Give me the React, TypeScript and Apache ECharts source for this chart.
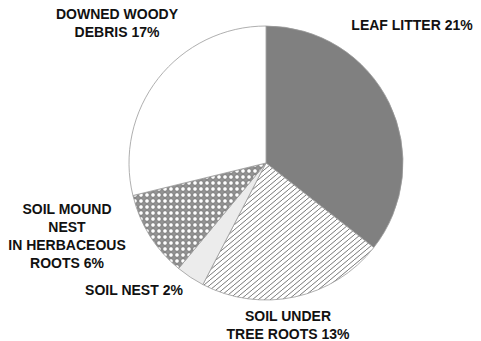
import React, { useEffect, useRef } from "react";
import * as echarts from "echarts";

const categories = [
  "LEAF LITTER",
  "SOIL UNDER\nTREE ROOTS",
  "SOIL NEST",
  "SOIL MOUND\nNEST\nIN HERBACEOUS\nROOTS",
  "DOWNED WOODY\nDEBRIS",
];
const values = [21, 13, 2, 6, 17];
// label anchor points (block centres) for each category
const labelX = [412, 288, 134, 67, 117];
const labelY = [25, 325, 290, 236, 23];

function makeHatch(): HTMLCanvasElement {
  const w = 6, h = 5;
  const c = document.createElement("canvas");
  c.width = w; c.height = h;
  const ctx = c.getContext("2d")!;
  ctx.fillStyle = "#ffffff";
  ctx.fillRect(0, 0, w, h);
  ctx.strokeStyle = "#6a6a6a";
  ctx.lineWidth = 0.9;
  for (const off of [-w, 0, w]) {
    ctx.beginPath();
    ctx.moveTo(off, h);
    ctx.lineTo(off + w, 0);
    ctx.stroke();
  }
  return c;
}

function makeCircles(): HTMLCanvasElement {
  const s = 6;
  const c = document.createElement("canvas");
  c.width = s; c.height = s;
  const ctx = c.getContext("2d")!;
  ctx.fillStyle = "#949494";
  ctx.fillRect(0, 0, s, s);
  ctx.fillStyle = "#ffffff";
  ctx.strokeStyle = "#686868";
  ctx.lineWidth = 0.7;
  ctx.beginPath();
  ctx.arc(3, 3, 2.3, 0, Math.PI * 2);
  ctx.fill();
  ctx.stroke();
  return c;
}

export default function App() {
  const ref = useRef<HTMLDivElement>(null);
  useEffect(() => {
    document.body.style.margin = "0";
    const chart = echarts.init(ref.current!, undefined, { renderer: "svg" });
    const fills: any[] = [
      "#808080",
      { image: makeHatch(), repeat: "repeat" },
      "#ececec",
      { image: makeCircles(), repeat: "repeat" },
      "#ffffff",
    ];
    chart.setOption({
      animation: false,
      backgroundColor: "#ffffff",
      series: [
        {
          type: "pie",
          center: [266, 163],
          radius: 137,
          startAngle: 90,
          clockwise: true,
          avoidLabelOverlap: false,
          silent: true,
          data: categories.map((name, i) => ({
            name,
            value: values[i],
            itemStyle: { color: fills[i] },
          })),
          itemStyle: { borderColor: "#9a9a9a", borderWidth: 0.8 },
          label: {
            show: true,
            formatter: (p: any) => `${p.name} ${p.value}%`,
            fontFamily: "Liberation Sans, Arial, sans-serif",
            fontWeight: "bold",
            fontSize: 14,
            lineHeight: 18,
            color: "#111",
            align: "center",
          },
          labelLine: { show: false },
          labelLayout: (params: any) => ({
            x: labelX[params.dataIndex],
            y: labelY[params.dataIndex],
            align: "center",
            verticalAlign: "middle",
          }),
        },
      ],
    });
    return () => chart.dispose();
  }, []);
  return <div ref={ref} style={{ width: 481, height: 341 }} />;
}
